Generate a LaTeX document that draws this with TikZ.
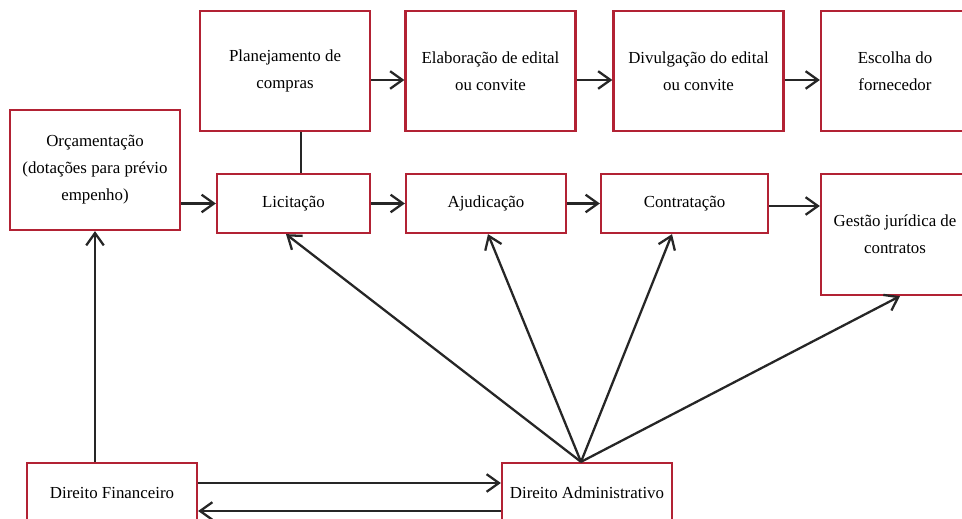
\documentclass[tikz,border=0pt]{standalone}
\usepackage{fontspec}
\setmainfont{Liberation Serif}
\usetikzlibrary{arrows.meta, positioning}
\definecolor{boxred}{RGB}{178,34,52}

\begin{document}
\begin{tikzpicture}[
  x=0.02cm, y=-0.02cm,
  box/.style={rectangle, draw=boxred, line width=1.3pt, fill=white, align=center, inner sep=2pt, font=\fontsize{9.6}{15.4}\selectfont},
  tall/.style={box, minimum width=3.4cm, minimum height=2.4cm},
  flat/.style={box, minimum height=1.18cm},
  link/.style={line width=1.3pt, draw=black!85},
  arr/.style={link, -{Straight Barb[length=7pt, width=10pt]}}
]

% área visível
\clip (0,0) rectangle (962,519);

% linha de cima
\node[tall] (plan) at (285, 71)   {Planejamento de\\compras};
\node[tall] (elab) at (490.5, 71) {Elaboração de edital\\ou convite};
\node[tall] (divu) at (698.5, 71) {Divulgação do edital\\ou convite};
\node[tall, minimum width=2.96cm] (esco) at (895, 71) {Escolha do\\fornecedor};

% linha do meio
\node[tall] (orc) at (95, 170) {Orçamentação\\(dotações para prévio\\empenho)};
\node[flat, minimum width=3.06cm] (lic)   at (293.5, 203.5) {Licitação};
\node[flat, minimum width=3.2cm]  (aju)   at (486, 203.5)   {Ajudicação};
\node[flat, minimum width=3.34cm] (contr) at (684.5, 203.5) {Contratação};
\node[box, minimum width=2.96cm, minimum height=2.42cm] (gest) at (895, 234.5) {Gestão jurídica de\\contratos};

% linha de baixo
\node[box, minimum width=3.4cm, minimum height=1.2cm] (df) at (112, 493) {Direito Financeiro};
\node[box, minimum width=3.4cm, minimum height=1.2cm] (da) at (587, 493) {Direito Administrativo};

% setas de cima
\draw[arr] ([yshift=-0.18cm]plan.east) -- ([yshift=-0.18cm]elab.west);
\draw[arr] ([yshift=-0.18cm]elab.east) -- ([yshift=-0.18cm]divu.west);
\draw[arr] ([yshift=-0.18cm]divu.east) -- ([yshift=-0.18cm]esco.west);
\draw[link] ([xshift=0.32cm]plan.south) -- ([xshift=0.32cm]plan.south |- lic.north);

% setas do meio
\draw[arr] (orc.east |- lic.west) -- (lic.west);
\draw[arr] (lic.east) -- (aju.west);
\draw[arr] (aju.east) -- (contr.west);
\draw[arr] ([yshift=-0.05cm]contr.east) -- ([yshift=-0.05cm]contr.east -| gest.west);

% setas de baixo
\draw[arr] (df.north -| orc.south) -- (orc.south);
\draw[arr] ([yshift=0.2cm]df.east) -- ([yshift=0.2cm]df.east -| da.west);
\draw[arr] ([yshift=-0.36cm]da.west) -- ([yshift=-0.36cm]da.west -| df.east);

% Direito Administrativo para as etapas
\coordinate (apex) at ([xshift=-0.12cm]da.north);
\draw[arr] (apex) -- ([xshift=-0.15cm]lic.south);
\draw[arr] (apex) -- ([xshift=0.04cm]aju.south);
\draw[arr] (apex) -- ([xshift=-0.25cm]contr.south);
\draw[arr] (apex) -- ([xshift=0.1cm]gest.south);

\end{tikzpicture}
\end{document}
